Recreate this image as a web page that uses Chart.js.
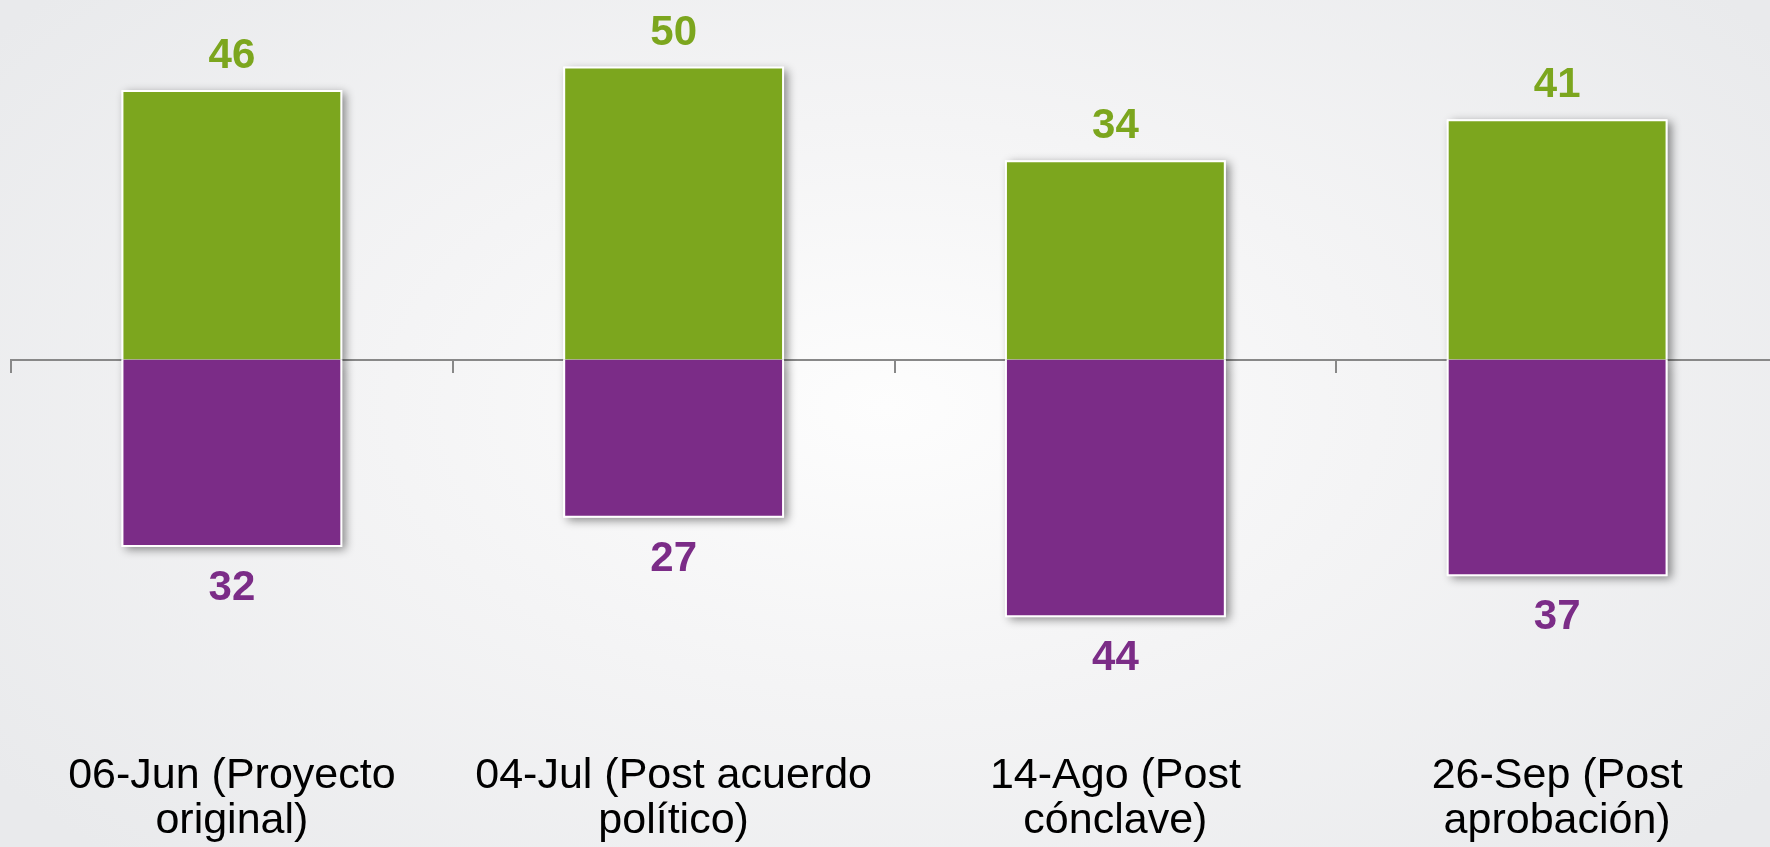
<!DOCTYPE html>
<html>
<head>
<meta charset="utf-8">
<script src="https://cdn.jsdelivr.net/npm/chart.js@4"></script>
<style>
  html, body { margin: 0; padding: 0; overflow: hidden; }
  body {
    width: 1770px; height: 847px;
    background: radial-gradient(ellipse 62% 75% at 50% 48%, #fdfdfd 0%, #f4f4f5 45%, #e9eaec 100%);
  }
  #wrap { position: absolute; left: 0; top: 0; width: 1790px; height: 847px; }
</style>
</head>
<body>
<div id="wrap"><canvas id="chart"></canvas></div>
<script>
const categories = [
  ['06-Jun (Proyecto', 'original)'],
  ['04-Jul (Post acuerdo', 'político)'],
  ['14-Ago (Post', 'cónclave)'],
  ['26-Sep (Post', 'aprobación)']
];
const greenValues = [46, 50, 34, 41];
const purpleValues = [32, 27, 44, 37];

const green = '#7ca61e';
const purple = '#7b2c87';

// soft drop shadow behind each bar
const barShadow = {
  id: 'barShadow',
  beforeDatasetsDraw(chart) {
    const ctx = chart.ctx;
    ctx.save();
    ctx.shadowColor = 'rgba(0,0,0,0.45)';
    ctx.shadowBlur = 9;
    ctx.shadowOffsetX = 4;
    ctx.shadowOffsetY = 3;
    ctx.fillStyle = '#ffffff';
    chart.data.datasets.forEach((ds, i) => {
      chart.getDatasetMeta(i).data.forEach(bar => {
        const { x, y, base, width } = bar.getProps(['x', 'y', 'base', 'width'], true);
        ctx.fillRect(x - width / 2, Math.min(y, base), width, Math.abs(base - y));
      });
    });
    ctx.restore();
  }
};

// numbers above the green bars and below the purple ones
const valueLabels = {
  id: 'valueLabels',
  afterDatasetsDraw(chart) {
    const ctx = chart.ctx;
    ctx.save();
    ctx.font = 'bold 42px "Liberation Sans", Arial, sans-serif';
    ctx.textAlign = 'center';
    ctx.textBaseline = 'alphabetic';
    chart.data.datasets.forEach((ds, i) => {
      chart.getDatasetMeta(i).data.forEach((bar, j) => {
        if (i === 0) {
          ctx.fillStyle = green;
          ctx.fillText(greenValues[j], bar.x, bar.y - 22);
        } else {
          ctx.fillStyle = purple;
          ctx.fillText(purpleValues[j], bar.x, bar.y + 53);
        }
      });
    });
    ctx.restore();
  }
};

new Chart(document.getElementById('chart'), {
  type: 'bar',
  data: {
    labels: categories,
    datasets: [
      {
        label: 'A favor',
        data: greenValues,
        backgroundColor: green,
        borderColor: '#ffffff',
        borderWidth: 2,
        barPercentage: 0.5,
        categoryPercentage: 1
      },
      {
        label: 'En contra',
        data: purpleValues.map(v => -v),
        backgroundColor: purple,
        borderColor: '#ffffff',
        borderWidth: 2,
        barPercentage: 0.5,
        categoryPercentage: 1
      }
    ]
  },
  options: {
    responsive: true,
    maintainAspectRatio: false,
    animation: false,
    layout: { padding: { left: 11, right: 12, top: 8, bottom: 3 } },
    plugins: {
      legend: { display: false },
      tooltip: { enabled: false }
    },
    scales: {
      x: {
        stacked: true,
        grid: { display: false, drawTicks: false },
        border: { display: false },
        afterFit: scale => { scale.height = 133; },
        ticks: {
          color: '#000000',
          padding: 43,
          maxRotation: 0,
          autoSkip: false,
          font: { family: '"Liberation Sans", Arial, sans-serif', size: 43, lineHeight: 1.047 }
        }
      },
      x2: {
        type: 'category',
        position: { y: 0 },
        offset: true,
        grid: {
          offset: true,
          drawOnChartArea: false,
          drawTicks: true,
          tickLength: 12,
          color: '#888888',
          lineWidth: 2
        },
        border: { color: '#888888', width: 2 },
        ticks: { display: false }
      },
      y: {
        stacked: true,
        display: false,
        min: -60,
        max: 60
      }
    }
  },
  plugins: [barShadow, valueLabels]
});
</script>
</body>
</html>
